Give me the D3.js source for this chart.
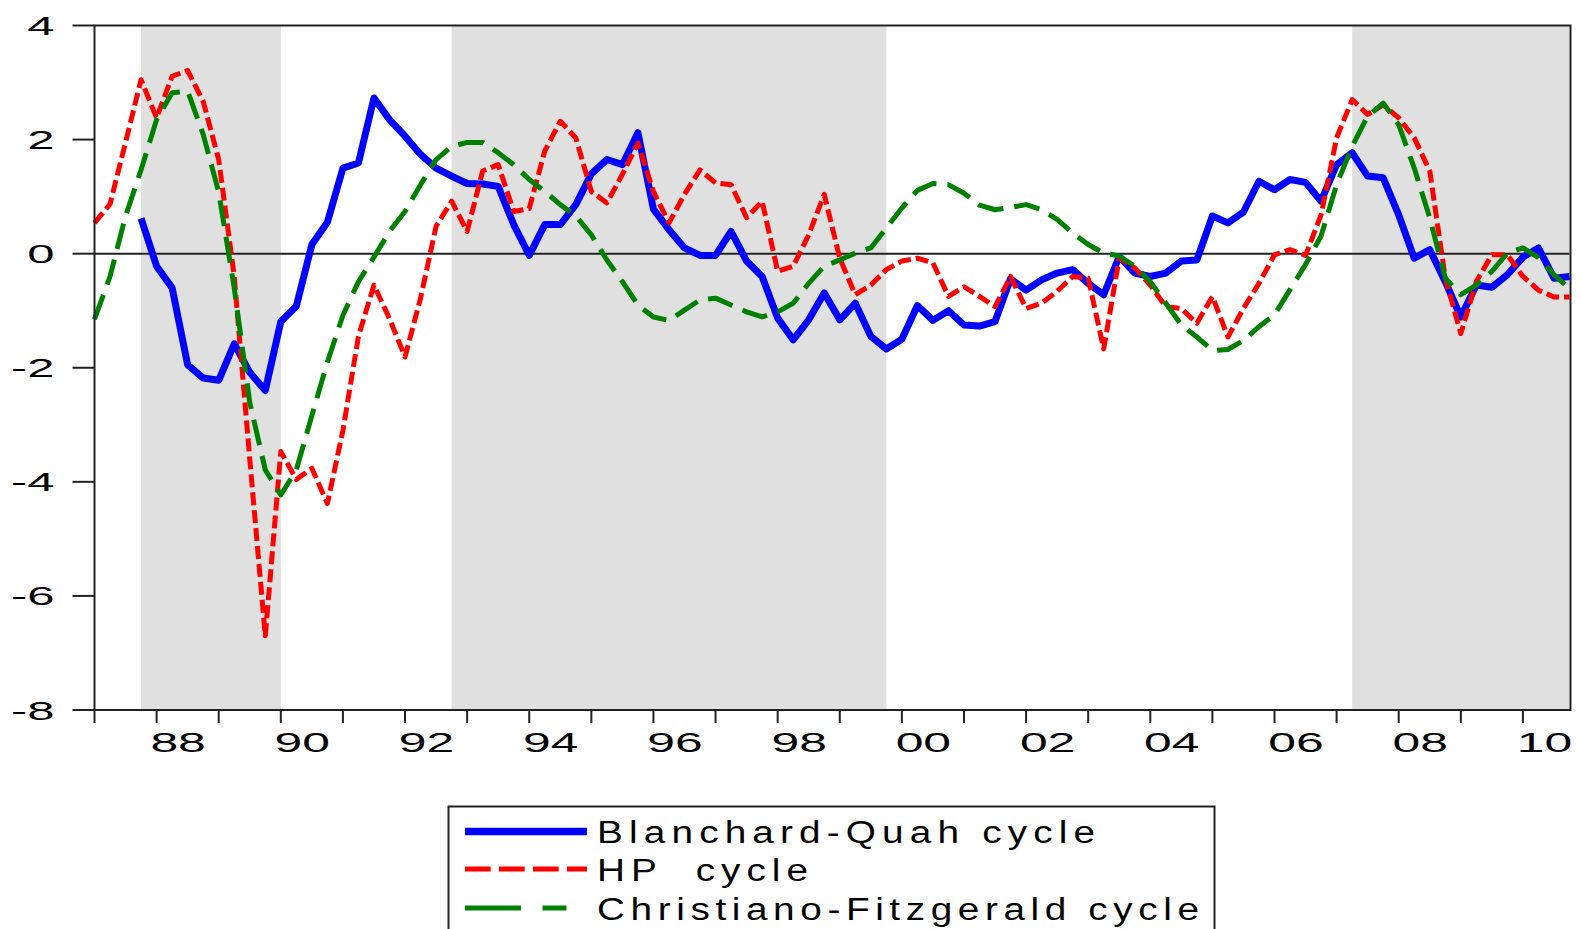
<!DOCTYPE html>
<html>
<head>
<meta charset="utf-8">
<script src="https://cdn.jsdelivr.net/npm/d3@7"></script>
<style>
  html, body { margin: 0; padding: 0; background: #ffffff; }
  svg { display: block; }
  text { font-family: "Liberation Sans", Arial, sans-serif; fill: #000; }
</style>
</head>
<body>
<svg id="chart" width="1581" height="929"></svg>
<script>
// ---------------- DATA ----------------
const quarters = d3.range(1987, 2011).flatMap(y => [1, 2, 3, 4].map(q => y + "Q" + q));

const blanchardQuah = [
  null, null, null, 0.62,
  -0.22, -0.60, -1.95, -2.18,
  -2.22, -1.58, -2.08, -2.40,
  -1.19, -0.92, 0.16, 0.55,
  1.50, 1.59, 2.73, 2.35,
  2.06, 1.74, 1.50, 1.36,
  1.23, 1.22, 1.18, 0.51,
  -0.03, 0.51, 0.51, 0.86,
  1.40, 1.65, 1.56, 2.12,
  0.78, 0.42, 0.10, -0.03,
  -0.03, 0.39, -0.13, -0.40,
  -1.13, -1.51, -1.16, -0.69,
  -1.16, -0.87, -1.45, -1.67,
  -1.50, -0.91, -1.17, -1.00,
  -1.25, -1.27, -1.19, -0.44,
  -0.64, -0.46, -0.34, -0.28,
  -0.52, -0.72, -0.05, -0.34,
  -0.40, -0.34, -0.13, -0.11,
  0.66, 0.54, 0.73, 1.27,
  1.12, 1.30, 1.25, 0.92,
  1.56, 1.77, 1.36, 1.33,
  0.68, -0.08, 0.07, -0.49,
  -1.11, -0.55, -0.59, -0.37,
  -0.06, 0.10, -0.43, -0.40
];

const hpCycle = [
  0.54, 0.87, 1.95, 3.05,
  2.38, 3.11, 3.21, 2.67,
  1.65, -0.40, -3.60, -6.70,
  -3.47, -3.96, -3.76, -4.38,
  -3.10, -1.45, -0.55, -1.14,
  -1.81, -0.78, 0.48, 0.92,
  0.39, 1.45, 1.56, 0.74,
  0.79, 1.80, 2.32, 2.03,
  1.09, 0.89, 1.39, 1.94,
  1.09, 0.54, 1.04, 1.47,
  1.24, 1.21, 0.63, 0.92,
  -0.31, -0.22, 0.33, 1.04,
  -0.08, -0.72, -0.55, -0.28,
  -0.13, -0.08, -0.16, -0.75,
  -0.58, -0.75, -0.93, -0.40,
  -0.96, -0.87, -0.66, -0.40,
  -0.43, -1.67, -0.08, -0.25,
  -0.55, -0.93, -0.96, -1.22,
  -0.75, -1.46, -0.96, -0.52,
  -0.02, 0.07, -0.03, 0.68,
  2.03, 2.70, 2.44, 2.61,
  2.38, 2.03, 1.45, -0.43,
  -1.40, -0.49, -0.02, -0.02,
  -0.40, -0.64, -0.76, -0.76
];

const cfCycle = [
  -1.15, -0.40, 0.66, 1.47,
  2.35, 2.82, 2.85, 2.09,
  1.08, -0.60, -2.61, -3.79,
  -4.23, -3.79, -2.84, -1.90,
  -1.08, -0.49, -0.06, 0.39,
  0.74, 1.21, 1.65, 1.88,
  1.95, 1.95, 1.77, 1.56,
  1.30, 1.09, 0.86, 0.66,
  0.33, -0.11, -0.49, -0.90,
  -1.11, -1.17, -0.99, -0.81,
  -0.78, -0.90, -1.02, -1.11,
  -1.02, -0.87, -0.52, -0.22,
  -0.11, 0.01, 0.10, 0.45,
  0.80, 1.11, 1.23, 1.21,
  1.06, 0.85, 0.77, 0.81,
  0.86, 0.77, 0.60, 0.36,
  0.16, 0.01, -0.04, -0.22,
  -0.49, -0.87, -1.25, -1.46,
  -1.70, -1.68, -1.52, -1.28,
  -1.07, -0.63, -0.19, 0.31,
  1.21, 1.88, 2.41, 2.64,
  2.26, 1.50, 0.63, -0.43,
  -0.72, -0.55, -0.31, 0.01,
  0.10, -0.07, -0.37, -0.61
];

const shadedPeriods = [["1987Q4", "1990Q1"], ["1992Q4", "1999Q4"], ["2007Q2", "2010Q4"]];
const yTickValues = [-8, -6, -4, -2, 0, 2, 4];
const yTickLabels = ["-8", "-6", "-4", "-2", "0", "2", "4"];
const xTickYears = [1987, 1988, 1989, 1990, 1991, 1992, 1993, 1994, 1995, 1996, 1997, 1998,
                    1999, 2000, 2001, 2002, 2003, 2004, 2005, 2006, 2007, 2008, 2009, 2010];
const xLabelYears = [1988, 1990, 1992, 1994, 1996, 1998, 2000, 2002, 2004, 2006, 2008, 2010];
const xLabels = ["88", "90", "92", "94", "96", "98", "00", "02", "04", "06", "08", "10"];
const seriesNames = ["Blanchard-Quah cycle", "HP  cycle", "Christiano-Fitzgerald cycle"];

// ---------------- LAYOUT ----------------
const svg = d3.select("#chart");
const plot = { left: 94.5, right: 1569.5, top: 25.5, bottom: 710 };
const TXT_STRETCH = 1.85;

const qTime = q => { const yy = +q.slice(0, 4), k = +q.slice(5); return yy + (k - 1) / 4; };
const x = d3.scaleLinear().domain([qTime(quarters[0]), qTime(quarters[quarters.length - 1])])
  .range([plot.left, plot.right]);
const y = d3.scaleLinear().domain([-8, 4]).range([plot.bottom, plot.top]);

// shading
svg.append("g").selectAll("rect").data(shadedPeriods).join("rect")
  .attr("x", d => x(qTime(d[0])))
  .attr("y", plot.top)
  .attr("width", d => x(qTime(d[1])) - x(qTime(d[0])))
  .attr("height", plot.bottom - plot.top)
  .attr("fill", "#e0e0e0");

// zero line
svg.append("line")
  .attr("x1", plot.left).attr("x2", plot.right)
  .attr("y1", y(0)).attr("y2", y(0))
  .attr("stroke", "#222").attr("stroke-width", 2);

// series
const mk = arr => arr.map((v, i) => ({ t: qTime(quarters[i]), v }));
const line = d3.line().defined(d => d.v !== null).x(d => x(d.t)).y(d => y(d.v));

svg.append("path").datum(mk(blanchardQuah)).attr("d", line)
  .attr("fill", "none").attr("stroke", "#0000ff").attr("stroke-width", 7)
  .attr("stroke-linejoin", "round").attr("stroke-linecap", "butt");
svg.append("path").datum(mk(hpCycle)).attr("d", line)
  .attr("fill", "none").attr("stroke", "#ff0000").attr("stroke-width", 5)
  .attr("stroke-dasharray", "13,5").attr("stroke-linejoin", "round");
svg.append("path").datum(mk(cfCycle)).attr("d", line)
  .attr("fill", "none").attr("stroke", "#008000").attr("stroke-width", 5)
  .attr("stroke-dasharray", "26,11").attr("stroke-linejoin", "round");

// frame
svg.append("rect")
  .attr("x", plot.left).attr("y", plot.top)
  .attr("width", plot.right - plot.left + 1).attr("height", plot.bottom - plot.top)
  .attr("fill", "none").attr("stroke", "#222").attr("stroke-width", 2);

// y axis ticks & labels
const yAxis = svg.append("g");
yAxis.selectAll("line").data(yTickValues).join("line")
  .attr("x1", plot.left - 22).attr("x2", plot.left)
  .attr("y1", d => y(d)).attr("y2", d => y(d))
  .attr("stroke", "#222").attr("stroke-width", 2);
yAxis.selectAll("text").data(yTickValues).join("text")
  .attr("transform", d => `translate(54.5,${y(d) + 9.5}) scale(${TXT_STRETCH},1)`)
  .attr("text-anchor", "end").attr("font-size", 26.5)
  .text((d, i) => yTickLabels[i]);

// x axis ticks & labels
const xAxis = svg.append("g");
xAxis.selectAll("line").data(xTickYears).join("line")
  .attr("x1", d => x(d)).attr("x2", d => x(d))
  .attr("y1", plot.bottom).attr("y2", plot.bottom + 13)
  .attr("stroke", "#222").attr("stroke-width", 2);
xAxis.selectAll("text").data(xLabelYears).join("text")
  .attr("transform", d => `translate(${x(d) + 21.5},752) scale(1.78,1)`)
  .attr("text-anchor", "middle").attr("font-size", 28)
  .text((d, i) => xLabels[i]);

// legend
const lg = svg.append("g");
lg.append("rect").attr("x", 448.5).attr("y", 806.5).attr("width", 766).attr("height", 160)
  .attr("fill", "#fff").attr("stroke", "#222").attr("stroke-width", 2);
const legendStyles = [
  { color: "#0000ff", w: 7.5, dash: null, len: 498 },
  { color: "#ff0000", w: 5, dash: "25.7,8.3", len: 211 },
  { color: "#008000", w: 5, dash: "56,21.5,24,21.5", len: 602 }
];
const LEG_STRETCH = 1.25;
const legendY = [831.5, 869, 908];
seriesNames.forEach((name, i) => {
  const s = legendStyles[i];
  const ln = lg.append("line")
    .attr("x1", 465).attr("x2", 587)
    .attr("y1", legendY[i]).attr("y2", legendY[i])
    .attr("stroke", s.color).attr("stroke-width", s.w);
  if (s.dash) ln.attr("stroke-dasharray", s.dash);
  lg.append("text")
    .attr("transform", `translate(597,${legendY[i] + 11.5}) scale(${LEG_STRETCH},1)`)
    .attr("font-size", 31)
    .attr("textLength", s.len / LEG_STRETCH).attr("lengthAdjust", "spacing")
    .style("white-space", "pre")
    .text(name);
});
</script>
</body>
</html>
